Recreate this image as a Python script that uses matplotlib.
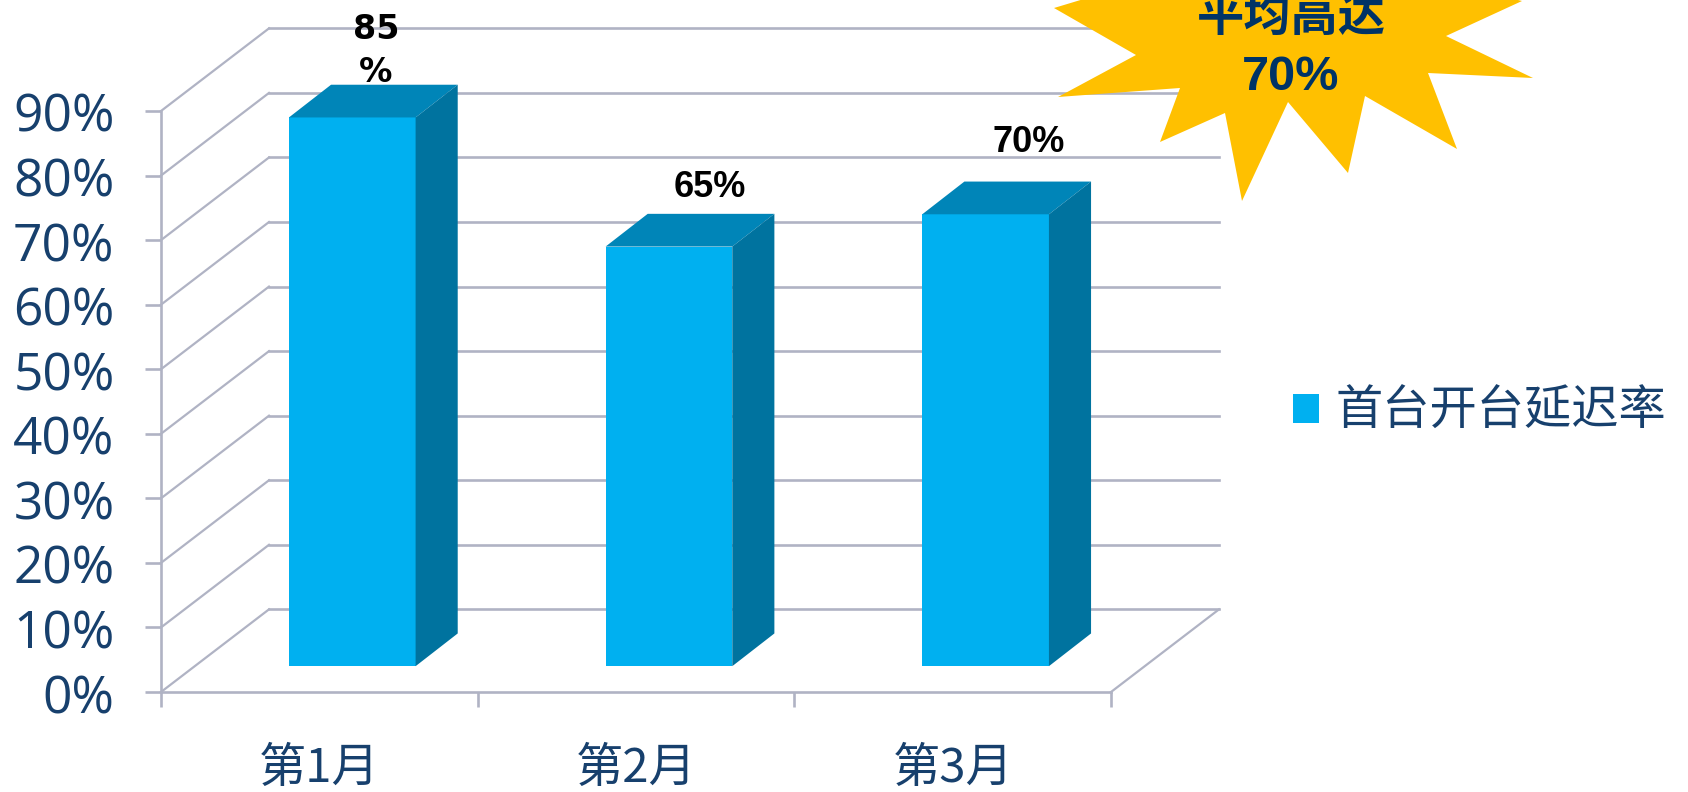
import matplotlib
matplotlib.use("Agg")
import matplotlib.pyplot as plt
from matplotlib.patches import Polygon
from matplotlib.transforms import ScaledTranslation

plt.rcParams['font.family'] = ['Noto Sans CJK SC', 'DejaVu Sans']

# data
months = ["第1月", "第2月", "第3月"]
delay_rate = [85, 65, 70]
value_labels = ["85\n%", "65%", "70%"]
y_ticks = [0, 10, 20, 30, 40, 50, 60, 70, 80, 90]
y_tick_labels = ["0%", "10%", "20%", "30%", "40%", "50%", "60%", "70%", "80%", "90%"]
series_name = "首台开台延迟率"
star_text = "平均高达"
star_value = "70%"

# starburst outline, pixels of the picture
star_x = [1054, 1136, 1058, 1180, 1160, 1225, 1242, 1288, 1348, 1365, 1457, 1428, 1533, 1446, 1522, 1400, 1290, 1180]
star_y = [8, 55, 97, 88, 142, 113, 201, 102, 173, 96, 149, 73, 78, 36, 1, -30, -40, -30]

W, H = 1688, 792
GRID = "#b0b3c4"
BLUE = "#17406d"

fig = plt.figure(figsize=(W / 100, H / 100), dpi=100)
ax = fig.add_axes([161 / W, (H - 692) / H, 950 / W, 581 / H])
ax.set_xlim(0, 3)
ax.set_ylim(0, 90)

# depth of the fake 3d box, in data units
wall_dx, wall_dy = 0.341, 12.8
bar_dx, bar_dy = 0.133, 5.07
bar_base = 4.0
bar_w = 0.40
bar_x = [i + 0.604 for i in range(len(months))]

# back wall and left wall
for t in y_ticks:
    ax.plot([wall_dx, 3 + wall_dx], [t + wall_dy, t + wall_dy], color=GRID, lw=1.9, clip_on=False, zorder=1)
    ax.plot([0, wall_dx], [t, t + wall_dy], color=GRID, lw=1.6, clip_on=False, zorder=1)
ax.plot([3, 3 + wall_dx], [0, wall_dy], color=GRID, lw=1.6, clip_on=False, zorder=1)

# bars
bars = ax.bar(bar_x, delay_rate, width=bar_w, bottom=bar_base, color="#00b0f0", zorder=3, label=series_name)
for x, v in zip(bar_x, delay_rate):
    left, right = x - bar_w / 2, x + bar_w / 2
    top = bar_base + v
    ax.fill([left, right, right + bar_dx, left + bar_dx], [top, top, top + bar_dy, top + bar_dy],
            color="#0085b8", lw=0, clip_on=False, zorder=3)
    ax.fill([right, right + bar_dx, right + bar_dx, right],
            [bar_base, bar_base + bar_dy, top + bar_dy, top],
            color="#00739f", lw=0, clip_on=False, zorder=3)

# value labels
label_dx = [0.075, 0.13, 0.137]
label_dy = [10.3, 9.1, 11.1]
for x, v, s, dx, dy in zip(bar_x, delay_rate, value_labels, label_dx, label_dy):
    if "\n" in s:
        ax.text(x + dx, bar_base + v + dy, s, ha="center", va="center", fontsize=24,
                family="DejaVu Sans", weight="bold", color="black", linespacing=1.35, zorder=5)
    else:
        ax.text(x + dx, bar_base + v + dy, s, ha="center", va="center", fontsize=26,
                family="Liberation Sans", weight="bold", color="black", zorder=5)

# axes
for side in ["top", "right"]:
    ax.spines[side].set_visible(False)
for side in ["left", "bottom"]:
    ax.spines[side].set_color(GRID)
    ax.spines[side].set_linewidth(1.9)
ax.patch.set_alpha(0)
ax.set_yticks(y_ticks)
ax.set_yticklabels(y_tick_labels, fontsize=37, family="Open Sans", color=BLUE)
ax.tick_params(axis="y", length=11.5, width=1.9, color=GRID, pad=22)
down = ScaledTranslation(0, -1.5 / 100, fig.dpi_scale_trans)
for lab in ax.get_yticklabels():
    lab.set_transform(lab.get_transform() + down)
ax.set_xticks(range(4))
ax.set_xticklabels([])
ax.tick_params(axis="x", which="major", length=11, width=1.9, color=GRID)
ax.set_xticks([i + 0.5 for i in range(3)], minor=True)
ax.set_xticklabels(months, minor=True, fontsize=34, color=BLUE)
ax.tick_params(axis="x", which="minor", length=0, pad=38)

# legend
ax.legend(handles=[bars], loc="center left", bbox_to_anchor=((1293 - 161) / 950, (692 - 412) / 581),
          frameon=False, fontsize=34, labelcolor=BLUE, handlelength=0.55, handleheight=0.55,
          handletextpad=0.34, borderpad=0, borderaxespad=0)

# starburst on top, pixel coordinates
over = fig.add_axes([0, 0, 1, 1])
over.set_xlim(0, W)
over.set_ylim(H, 0)
over.axis("off")
over.add_patch(Polygon(list(zip(star_x, star_y)), closed=True, facecolor="#ffc000", edgecolor="none"))
over.text(1291, 17, star_text, ha="center", va="center", fontsize=34, weight="bold", color="#003366")
over.text(1291, 77, star_value, ha="center", va="center", fontsize=35, family="Liberation Sans",
          weight="bold", color="#003366")

fig.savefig("out.png", dpi=100)
